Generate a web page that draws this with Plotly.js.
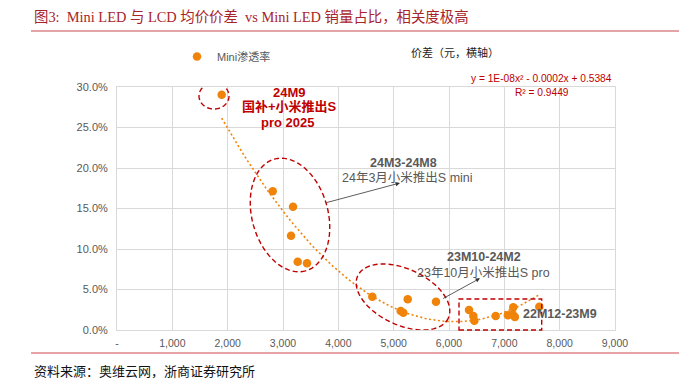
<!DOCTYPE html>
<html>
<head>
<meta charset="utf-8">
<script src="https://cdn.plot.ly/plotly-3.0.1.min.js"></script>
<style>
html,body{margin:0;padding:0;background:#fff;}
#chart{width:679px;height:389px;}
</style>
</head>
<body>
<div id="chart"></div>
<script>
// ---- data ----
const seriesName = 'Mini渗透率';
const priceDiff = [1892, 2814, 3181, 3145, 3266, 3434, 4614, 5254, 5127, 5174, 5765,
                   6362, 6440, 6458, 6844, 7064, 7162, 7150, 7190, 7632];
const miniShare = [0.2905, 0.1712, 0.1522, 0.1164, 0.0843, 0.0823, 0.0411, 0.0379, 0.0235, 0.0214, 0.0349,
                   0.0247, 0.0173, 0.0115, 0.0173, 0.0182, 0.0280, 0.0193, 0.0162, 0.0288];
// polynomial trendline coefficients (printed equation, unrounded estimate): y = a x^2 + b x + c
const trendCoef = [1.42e-8, -1.732e-4, 0.5384];
const xTickVals = [0, 1000, 2000, 3000, 4000, 5000, 6000, 7000, 8000, 9000];
const xTickText = ['-', '1,000', '2,000', '3,000', '4,000', '5,000', '6,000', '7,000', '8,000', '9,000'];
const yTickVals = [0, 0.05, 0.10, 0.15, 0.20, 0.25, 0.30];
const titleText = '图3:&nbsp;&nbsp;Mini LED 与 LCD 均价价差&nbsp;&nbsp;vs Mini LED 销量占比，相关度极高';
const sourceText = '资料来源：奥维云网，浙商证券研究所';
const xAxisNote = '价差（元，横轴）';
const eqText = 'y = 1E-08x² - 0.0002x + 0.5384';
const r2Text = 'R² = 0.9449';
const label24M9 = ['24M9', '国补+小米推出S', 'pro 2025'];
const label24M3 = ['24M3-24M8', '24年3月小米推出S mini'];
const label23M10 = ['23M10-24M2', '23年10月小米推出S pro'];
const label22M12 = '22M12-23M9';

// ---- geometry ----
const W = 679, H = 389, ML = 117, MR = 64, MT = 87, MB = 59;
const PW = W - ML - MR, PH = H - MT - MB;
const XMAX = 9000, YMAX = 0.30;
const px2x = px => (px - ML) / PW;          // paper x
const py2y = py => (H - MB - py) / PH;       // paper y
const px2dx = px => px2x(px) * XMAX;         // data x
const py2dy = py => py2y(py) * YMAX;         // data y

// ---- trend line over the data's x span ----
const trend = x => trendCoef[0] * x * x + trendCoef[1] * x + trendCoef[2];
const xMin = Math.min(...priceDiff), xMaxD = Math.max(...priceDiff);
const trendX = [], trendY = [];
for (let i = 0; i <= 100; i++) { const x = xMin + (xMaxD - xMin) * i / 100; trendX.push(x); trendY.push(trend(x)); }

// ---- ellipse path helper (pixel-defined, converted to data coords) ----
function ellipsePath(cx, cy, a, b, angDeg) {
  const t = angDeg * Math.PI / 180; let d = '';
  for (let i = 0; i <= 72; i++) {
    const u = 2 * Math.PI * i / 72;
    const ex = a * Math.cos(u), ey = b * Math.sin(u);
    const px = cx + ex * Math.cos(t) - ey * Math.sin(t);
    const py = cy + ex * Math.sin(t) + ey * Math.cos(t);
    d += (i === 0 ? 'M' : 'L') + px2dx(px).toFixed(2) + ',' + py2dy(py).toFixed(5);
  }
  return d + 'Z';
}

const RED = '#C00000', ORANGE = '#F0830A';
const sansFont = 'Liberation Sans, Arial, Noto Sans CJK SC, sans-serif';
const dashLine = {color: RED, width: 1.4, dash: '5px,3px'};

const traces = [
  {x: trendX, y: trendY, type: 'scatter', mode: 'lines', showlegend: false, hoverinfo: 'skip',
   line: {color: ORANGE, width: 1.6, dash: '2px,2.5px'}},
  {x: priceDiff, y: miniShare, type: 'scatter', mode: 'markers', name: seriesName,
   marker: {color: ORANGE, size: 8.5}}
];

const shapes = [
  {type: 'line', xref: 'paper', yref: 'paper', x0: px2x(31), x1: px2x(679), y0: py2y(31), y1: py2y(31),
   line: {color: '#d9868a', width: 1.6}},
  {type: 'line', xref: 'paper', yref: 'paper', x0: px2x(31), x1: px2x(679), y0: py2y(353), y1: py2y(353),
   line: {color: '#d0484d', width: 1.2}},
  {type: 'path', xref: 'x', yref: 'y', path: ellipsePath(214, 96, 15, 13, 0), line: dashLine},
  {type: 'path', xref: 'x', yref: 'y', path: ellipsePath(290, 215, 58, 38, 74.5), line: dashLine},
  {type: 'path', xref: 'x', yref: 'y', path: ellipsePath(403, 297, 50, 28, 25), line: dashLine},
  {type: 'rect', xref: 'paper', yref: 'paper', x0: px2x(459), x1: px2x(541.7), y0: py2y(330), y1: py2y(299),
   line: dashLine}
];

function txt(text, px, py, opts) {
  return Object.assign({text: text, xref: 'paper', yref: 'paper', x: px2x(px), y: py2y(py),
    showarrow: false, xanchor: 'center', yanchor: 'middle',
    font: {family: sansFont, size: 12, color: '#000'}}, opts || {});
}
function arrow(hx, hy, tx, ty) {
  return {text: '', xref: 'paper', yref: 'paper', x: px2x(hx), y: py2y(hy),
    ax: tx - hx, ay: ty - hy, showarrow: true, arrowhead: 2, arrowsize: 1.1, arrowwidth: 0.8,
    arrowcolor: '#333', standoff: 0, startstandoff: 0};
}

const annotations = [
  txt(titleText, 32, 17, {xanchor: 'left', font: {family: 'Liberation Serif, Noto Sans CJK SC, serif', size: 14.4, color: '#A8242A'}}),
  txt(sourceText, 32, 372, {xanchor: 'left', font: {family: 'Liberation Serif, Noto Sans CJK SC, serif', size: 13, color: '#111'}}),
  txt(xAxisNote, 409, 52, {xanchor: 'left', font: {family: sansFont, size: 11, color: '#222'}}),
  txt(eqText, 541, 78, {font: {family: sansFont, size: 10.2, color: RED}}),
  txt(r2Text, 541.5, 92, {font: {family: sansFont, size: 10.2, color: RED}}),
  txt('<b>' + label24M9[0] + '</b>', 289, 92, {font: {family: sansFont, size: 13, color: RED}}),
  txt('<b>' + label24M9[1] + '</b>', 289, 107, {font: {family: sansFont, size: 13, color: RED}}),
  txt('<b>' + label24M9[2] + '</b>', 287, 122, {font: {family: sansFont, size: 13, color: RED}}),
  txt('<b>' + label24M3[0] + '</b>', 403, 163, {font: {family: sansFont, size: 12.5}}),
  txt(label24M3[1], 340, 178, {xanchor: 'left', font: {family: sansFont, size: 12.5}}),
  txt('<b>' + label23M10[0] + '</b>', 484, 257, {font: {family: sansFont, size: 12.5}}),
  txt(label23M10[1], 415, 273, {xanchor: 'left', font: {family: sansFont, size: 12.5}}),
  txt('<b>' + label22M12 + '</b>', 521, 313.5, {xanchor: 'left', font: {family: sansFont, size: 12.5}}),
  arrow(400, 183, 325, 203),
  arrow(480, 278.3, 441.7, 299.3)
];

const layout = {
  width: W, height: H,
  margin: {l: ML, r: MR, t: MT, b: MB, pad: 0},
  paper_bgcolor: '#fff', plot_bgcolor: '#fff',
  font: {family: sansFont, size: 11, color: '#595959'},
  showlegend: true,
  legend: {x: px2x(177), y: py2y(42), xanchor: 'left', yanchor: 'top', orientation: 'h',
           bgcolor: 'rgba(0,0,0,0)', font: {family: sansFont, size: 11, color: '#595959'}},
  xaxis: {range: [0, XMAX], tickvals: xTickVals, ticktext: xTickText, showgrid: true,
          gridcolor: '#d9d9d9', gridwidth: 1, zeroline: false, showline: true, linecolor: '#d9d9d9',
          mirror: true, ticks: '', ticklabelstandoff: 3, tickfont: {size: 10.5, color: '#595959'}, fixedrange: true},
  yaxis: {range: [0, YMAX], tickvals: yTickVals, tickformat: '.1%', showgrid: true,
          gridcolor: '#d9d9d9', gridwidth: 1, zeroline: false, showline: true, linecolor: '#d9d9d9',
          mirror: true, ticks: '', ticklabelstandoff: 6, tickfont: {size: 11, color: '#595959'}, fixedrange: true},
  shapes: shapes,
  annotations: annotations
};

Plotly.newPlot('chart', traces, layout, {displayModeBar: false, staticPlot: true});
</script>
</body>
</html>
